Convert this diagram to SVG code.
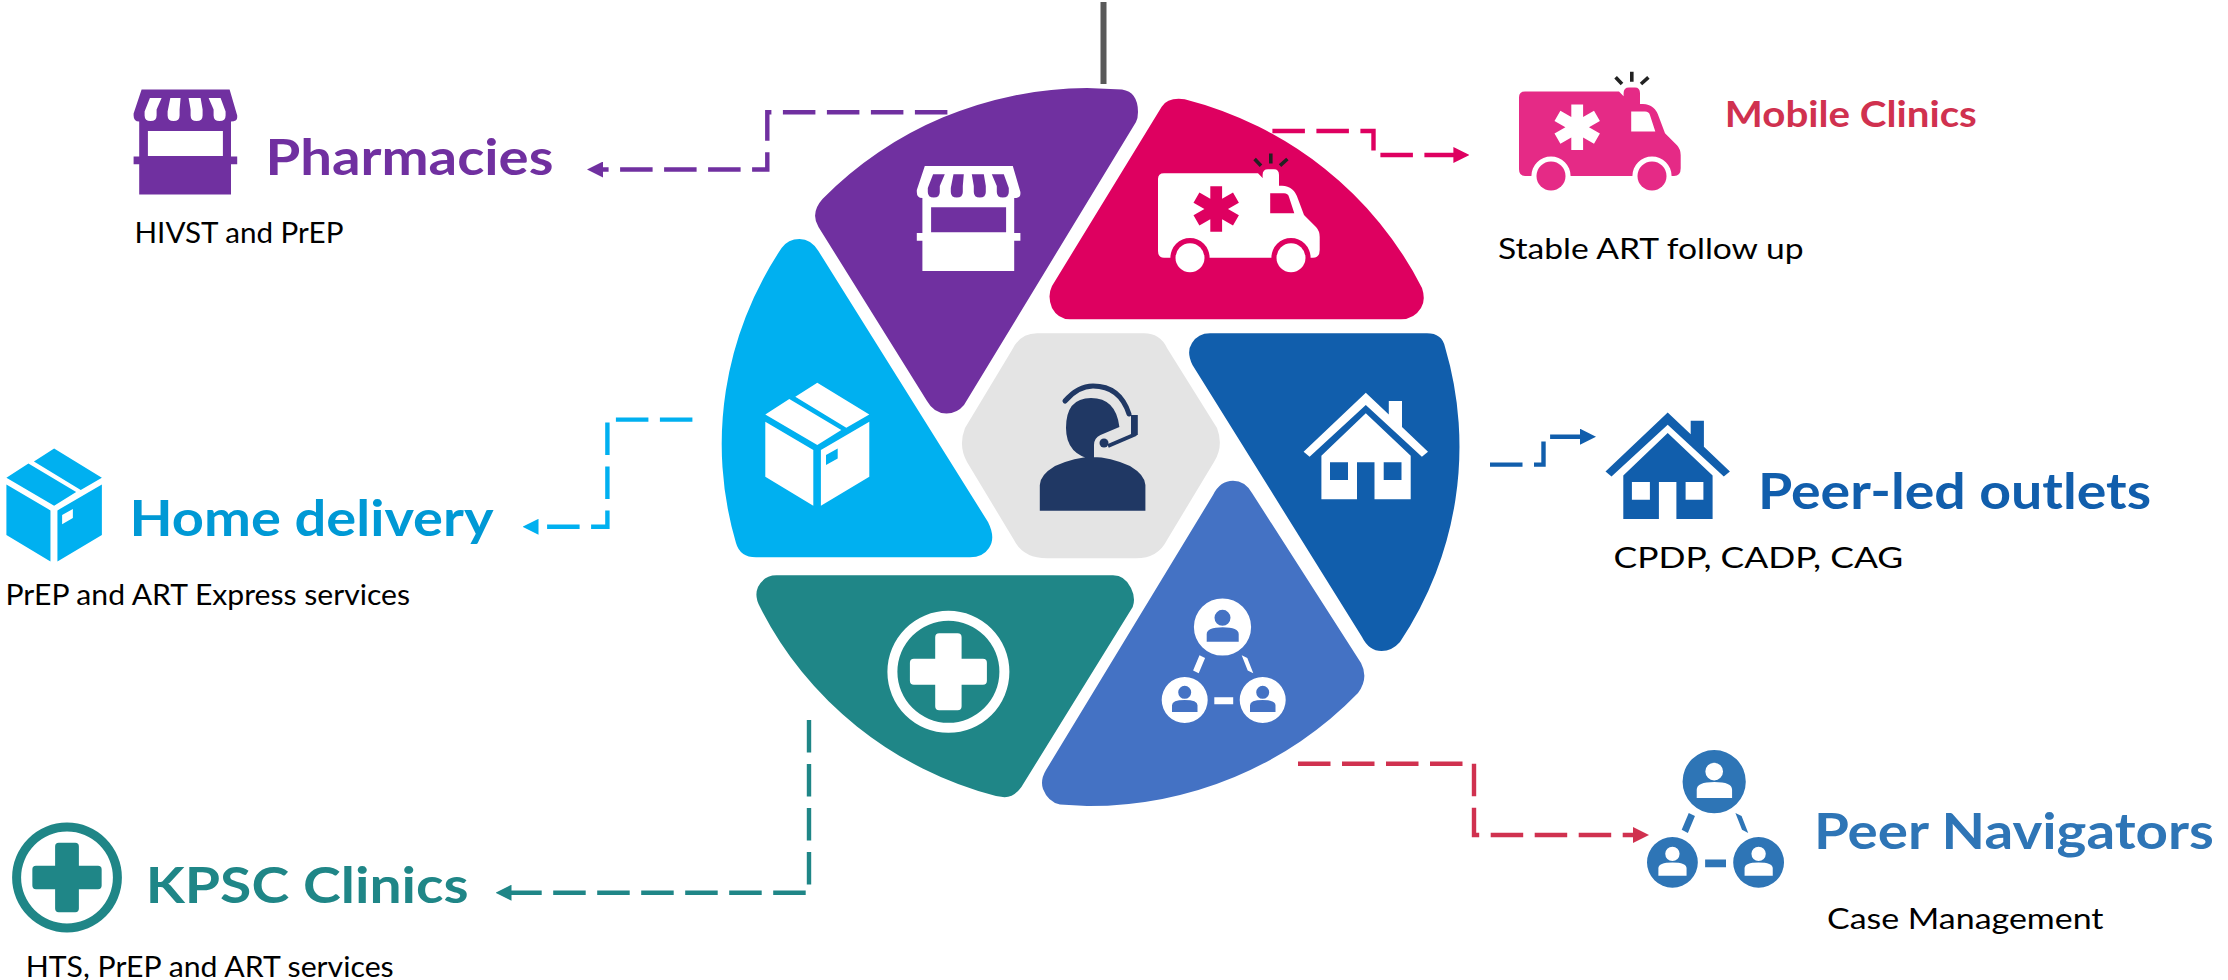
<svg xmlns="http://www.w3.org/2000/svg" xmlns:xlink="http://www.w3.org/1999/xlink" width="2228" height="980" viewBox="0 0 2228 980">
<style>
text{font-family:"Lato","Liberation Sans",sans-serif}
.t{font-weight:700;font-size:49px}
.s{font-size:29.5px;fill:#000}
.c{fill:none;stroke-width:4.4;stroke-dasharray:32.5 11.5}
</style>
<defs>
<marker id="aPurple" markerUnits="userSpaceOnUse" markerWidth="16" markerHeight="16" refX="8" refY="8" orient="auto"><path d="M0,0L16,8L0,16Z" fill="#7030A0"/></marker>
<marker id="aMag" markerUnits="userSpaceOnUse" markerWidth="16" markerHeight="16" refX="8" refY="8" orient="auto"><path d="M0,0L16,8L0,16Z" fill="#DE0060"/></marker>
<marker id="aBlue" markerUnits="userSpaceOnUse" markerWidth="16" markerHeight="16" refX="8" refY="8" orient="auto"><path d="M0,0L16,8L0,16Z" fill="#115EAC"/></marker>
<marker id="aCyan" markerUnits="userSpaceOnUse" markerWidth="16" markerHeight="16" refX="8" refY="8" orient="auto"><path d="M0,0L16,8L0,16Z" fill="#00B0F0"/></marker>
<marker id="aTeal" markerUnits="userSpaceOnUse" markerWidth="16" markerHeight="16" refX="8" refY="8" orient="auto"><path d="M0,0L16,8L0,16Z" fill="#1F8687"/></marker>
<marker id="aRed" markerUnits="userSpaceOnUse" markerWidth="16" markerHeight="16" refX="8" refY="8" orient="auto"><path d="M0,0L16,8L0,16Z" fill="#D0314F"/></marker>
<path id="store" fill-rule="evenodd" d="M8,0H96L103.6,26V28Q103.6,32 97.4,32V67H103.6V74.7H97.4V105H5.6V74.7H0V67H5.6V32Q0,32 0,26V24ZM14.3,41.3V66.3H89.3V41.3ZM16.3,8.3L11,22V26Q11,31.5 17,31.5Q23,31.5 23,26V20L28,8.3ZM36.7,8.3L34,22V26Q34,31.5 40,31.5Q46,31.5 46,26V20L47,8.3ZM55,8.3L57,20V26Q57,31.5 63,31.5Q69,31.5 69,26V20L67,8.3ZM75,8.3L80,20V26Q80,31.5 86,31.5Q92,31.5 92,26V22L87,8.3Z"/>
<g id="amb">
<path fill-rule="evenodd" d="M6,20.3H100L104.6,25V22Q104.6,16.3 110,16.3H116Q121,16.3 121,22V32.7H124Q136,33 140,46L146,62L158,74Q161.7,78 161.7,84V97Q161.7,104.7 155,104.7H152.6A19.6,19.6 0 0 0 113.4,104.7H51.6A19.6,19.6 0 0 0 12.4,104.7H6Q0,104.7 0,98V26Q0,20.3 6,20.3ZM52.3,33.2H64.1V45.8L75,39.5L80.9,49.7L70,56L80.9,62.3L75,72.5L64.1,66.2V78.8H52.3V66.2L41.4,72.5L35.5,62.3L46.4,56L35.5,49.7L41.4,39.5L52.3,45.8ZM112.2,40.3V60.3H136.3L131,44Q130,40.3 126,40.3Z"/>
<circle cx="32" cy="104.8" r="14.5"/><circle cx="133" cy="104.8" r="14.5"/>
<path d="M112.8,0.5V10.5M96.6,6L103,12.7M129.4,6L122,12.7" fill="none" stroke="#222" stroke-width="3.6"/>
</g>
<path id="house" fill-rule="evenodd" d="M62.2,0L85.2,21.8V8.3H98.4V34.3L124.4,59L118.3,64L62.2,12.3L6,64L0,59ZM62.2,20.6L107.1,63V106.6H70.9V69.6H53.4V106.6H17.8V63ZM26.4,69.6V87.3H44.4V69.6ZM80.1,69.6V87.3H97.9V69.6Z"/>
<path id="box" fill-rule="evenodd" d="M24,16.3L76,47.3L52,62.3L0,31.7ZM52,0L104,31.7L81,45L30,14ZM0,39L48,67.3V123L0,94ZM104,39V94L55.6,123V67.3ZM72.4,65.7L60.7,72.3V82.3L72.4,75.7Z"/>
<path id="peers" fill-rule="evenodd" d="M32.2,28.7a28.6,28.6 0 1 0 57.2,0a28.6,28.6 0 1 0 -57.2,0ZM52.8,19.5a8,8 0 1 0 16,0a8,8 0 1 0 -16,0ZM45,43.4V36Q45,29 61,29Q77,29 77,36V43.4ZM0,101.7a23,23 0 1 0 46,0a23,23 0 1 0 -46,0ZM16.5,94a6.5,6.5 0 1 0 13,0a6.5,6.5 0 1 0 -13,0ZM10.3,113.7V107Q10.3,101.7 23,101.7Q35.8,101.7 35.8,107V113.7ZM78,101.7a23,23 0 1 0 46,0a23,23 0 1 0 -46,0ZM94.5,94a6.5,6.5 0 1 0 13,0a6.5,6.5 0 1 0 -13,0ZM88.3,113.7V107Q88.3,101.7 101,101.7Q113.8,101.7 113.8,107V113.7ZM52.6,99H71.5V106H52.6ZM37.8,57L43.4,59.8L37,75L31.4,72.2ZM80,57L85.6,59.8L91.6,75L86,72.2Z"/>
<path id="plus" fill-rule="evenodd" d="M-61,0a61,61 0 1 0 122,0a61,61 0 1 0 -122,0ZM-51,0a51,51 0 1 1 102,0a51,51 0 1 1 -102,0ZM-13.2,-34.5a4,4 0 0 1 4,-4h18.4a4,4 0 0 1 4,4V-13H34.5a4,4 0 0 1 4,4V9a4,4 0 0 1 -4,4H13.2V34.5a4,4 0 0 1 -4,4H-9.2a4,4 0 0 1 -4,-4V13H-34.5a4,4 0 0 1 -4,-4V-9a4,4 0 0 1 4,-4H-13.2Z"/>
</defs>
<rect width="2228" height="980" fill="#fff"/>
<g id="connectors">
<path class="c" stroke="#7030A0" marker-end="url(#aPurple)" d="M947.4,112.3H767.3V169.5H595"/>
<path class="c" stroke="#DE0060" marker-end="url(#aMag)" d="M1272.4,131H1373.5V155H1461.4"/>
<path class="c" stroke="#115EAC" marker-end="url(#aBlue)" d="M1490,464.6H1543.5V436.7H1588"/>
<path class="c" stroke="#00B0F0" marker-end="url(#aCyan)" d="M692.4,419.6H607.4V526.8H530.5"/>
<path class="c" stroke="#1F8687" marker-end="url(#aTeal)" d="M809,720V892.7H503.5"/>
<path class="c" stroke="#D0314F" marker-end="url(#aRed)" d="M1298,763.7H1474V835H1641"/>
</g>
<g id="node-pharmacies">
<path fill="#7030A0" d="M1087,88L1122,89.5Q1138,92 1138,112Q1138,118 1136,122L964,405Q957,413.5 946.5,413.5Q934,413.5 927,401L818.5,227Q810,213 822.5,199A369 359 0 0 1 1087,88Z"/>
<use href="#store" xlink:href="#store" x="916.8" y="166" fill="#fff"/>
<use href="#store" xlink:href="#store" x="133.6" y="89.6" fill="#7030A0"/>
<text class="t" x="265.4" y="175" fill="#7030A0" textLength="288" lengthAdjust="spacingAndGlyphs">Pharmacies</text>
<text class="s" x="134.5" y="243.2" textLength="209" lengthAdjust="spacingAndGlyphs">HIVST and PrEP</text>
</g>
<g id="node-mobile">
<path fill="#DE0060" d="M1184.7,99.3A369 359 0 0 1 1422,288Q1426,300 1421,308Q1414,319.3 1401,319.3H1070Q1058,319.3 1052,308Q1047,296 1052,286L1161.7,106.7Q1168,97 1184.7,99.3Z"/>
<use href="#amb" xlink:href="#amb" x="1158" y="153" fill="#fff"/>
<use href="#amb" xlink:href="#amb" x="1519" y="71.3" fill="#E52A86"/>
<text class="t" style="font-size:36px" x="1724.8" y="126.8" fill="#D0314F" textLength="252" lengthAdjust="spacingAndGlyphs">Mobile Clinics</text>
<text class="s" x="1498" y="259" textLength="305.5" lengthAdjust="spacingAndGlyphs">Stable ART follow up</text>
</g>
<g id="node-peer-led">
<path fill="#115EAC" d="M1210,333.3H1427Q1442,333.3 1445,347A369 359 0 0 1 1400,642Q1392,651 1381.6,651Q1369,651 1362,637L1192.5,365Q1186,352 1192,343Q1198,333.3 1210,333.3Z"/>
<use href="#house" xlink:href="#house" x="1303.6" y="392.7" fill="#fff"/>
<use href="#house" xlink:href="#house" x="1605.5" y="412.5" fill="#115EAC"/>
<text class="t" x="1758" y="509" fill="#115EAC" textLength="393" lengthAdjust="spacingAndGlyphs">Peer-led outlets</text>
<text class="s" x="1613.6" y="568" textLength="289.6" lengthAdjust="spacingAndGlyphs">CPDP, CADP, CAG</text>
</g>
<g id="node-navigators">
<path fill="#4472C4" d="M1233,480.7Q1245,480.7 1252,493L1361,663Q1369,678 1358,693A369 359 0 0 1 1087,806L1060,804.5Q1048,802 1043,789Q1040,780 1046,770L1213,495Q1220,480.7 1233,480.7Z"/>
<use href="#peers" xlink:href="#peers" x="1161.7" y="598.3" fill="#fff"/>
<use href="#peers" xlink:href="#peers" transform="translate(1647 750) scale(1.105)" fill="#2E75B6"/>
<text class="t" x="1813.9" y="849" fill="#2E75B6" textLength="400" lengthAdjust="spacingAndGlyphs">Peer Navigators</text>
<text class="s" x="1827" y="929" textLength="276.5" lengthAdjust="spacingAndGlyphs">Case Management</text>
</g>
<g id="node-kpsc">
<path fill="#1F8687" d="M776.5,575.3H1113Q1125,575.3 1131,588Q1136,598 1132.7,607L1021.4,787Q1014,797.3 1004.6,797.3L996,796A369 359 0 0 1 760,607Q754,596 758,587Q764,575.3 776.5,575.3Z"/>
<use href="#plus" xlink:href="#plus" x="948.4" y="671.8" fill="#fff"/>
<use href="#plus" xlink:href="#plus" transform="translate(67 877.5) scale(.9)" fill="#1F8687"/>
<text class="t" x="145.7" y="903.3" fill="#1F8687" textLength="323" lengthAdjust="spacingAndGlyphs">KPSC Clinics</text>
<text class="s" x="25.7" y="976.7" textLength="368" lengthAdjust="spacingAndGlyphs">HTS, PrEP and ART services</text>
</g>
<g id="node-home">
<path fill="#00B0F0" d="M799.5,239Q811,239 818.4,251L988,522Q996,538 989,548Q983,557.3 970,557.3H756Q740,557.3 736,543A369 359 0 0 1 781.6,248Q788,239 799.5,239Z"/>
<use href="#box" xlink:href="#box" x="765.3" y="382.7" fill="#fff"/>
<use href="#box" xlink:href="#box" transform="translate(6.4 448.6) scale(.918)" fill="#00B0F0"/>
<text class="t" x="129.5" y="536" fill="#0099D5" textLength="364" lengthAdjust="spacingAndGlyphs">Home delivery</text>
<text class="s" x="5.5" y="605.4" textLength="404.5" lengthAdjust="spacingAndGlyphs">PrEP and ART Express services</text>
</g>
<g id="node-center">
<path fill="#E4E4E4" d="M1037,333.3H1144Q1160,333.3 1167,348L1217,428Q1224,446 1214,462L1167,540Q1158,558.3 1136,558.3H1047Q1023,558.3 1014,540L967,462Q958,446 965,428L1012,350Q1020,333.3 1037,333.3Z"/>
<path fill="#203864" d="M1094,460Q1066,455 1066,428Q1066,398 1091,398Q1116,398 1119.4,427L1100.5,435Q1094,438 1094,445ZM1039.8,510.7V485Q1040,475 1055,466Q1075,457 1092.6,457Q1110,457 1130,466Q1145,475 1145.4,485V510.7ZM1131,415H1137.8V435H1131Z"/>
<path fill="none" stroke="#203864" stroke-width="5" stroke-linecap="round" d="M1065,401Q1078,386 1093,386Q1120,386 1129,414"/>
<path fill="none" stroke="#203864" stroke-width="4" d="M1136,434L1108,446"/>
<circle cx="1104" cy="443" r="4.5" fill="#203864"/>
</g>
<rect id="bar" x="1100.5" y="2" width="6" height="82" fill="#595959"/>
</svg>
